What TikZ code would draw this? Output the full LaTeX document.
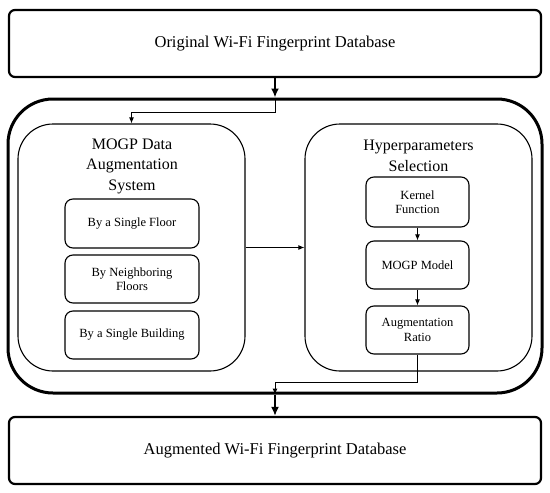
\documentclass[tikz,border=0pt]{standalone}
\usepackage{fontspec}
\setmainfont{Liberation Serif}
\usetikzlibrary{arrows.meta,calc}
\tikzset{
  bigbox/.style={draw, line width=2.2pt, rounded corners=6pt, minimum width=532pt, minimum height=67pt, inner sep=0pt, font=\fontsize{16.5}{20}\selectfont},
  outerbox/.style={draw, line width=3pt, rounded corners=45pt, minimum width=534pt, minimum height=294pt, inner sep=0pt},
  midbox/.style={draw, line width=1.1pt, rounded corners=35pt, minimum width=227pt, minimum height=247pt, inner sep=0pt},
  smallbox/.style={draw, line width=1.1pt, rounded corners=8pt, inner sep=0pt, align=center, font=\fontsize{12.5}{14.5}\selectfont},
  titletext/.style={align=center, inner sep=0pt, font=\fontsize{16}{20.5}\selectfont},
  thinarrow/.style={line width=1pt, -{Latex[length=6pt,width=5pt]}},
  thickarrow/.style={line width=2.4pt, -{Latex[length=9pt,width=8pt]}},
}
\begin{document}
\begin{tikzpicture}[x=1pt,y=-1pt]
\useasboundingbox (0,0) rectangle (550,493);
\node[bigbox] (top) at (275,43.5) {Original Wi-Fi Fingerprint Database};
\node[outerbox] (outer) at (275,246) {};
\node[midbox] (mogp) at (131.5,247.5) {};
\node[midbox] (hyper) at (418.5,247.5) {};
\node[titletext] (mogpt) at (132,166) {MOGP Data\\Augmentation\\System};
\node[titletext] (hypert) at (418.5,156) {Hyperparameters\\Selection};
\node[smallbox, minimum width=134pt, minimum height=49pt] (l1) at (132,223.5) {By a Single Floor};
\node[smallbox, minimum width=134pt, minimum height=48pt] (l2) at (132,279) {By Neighboring\\Floors};
\node[smallbox, minimum width=134pt, minimum height=48pt] (l3) at (132,335) {By a Single Building};
\node[smallbox, minimum width=103pt, minimum height=50pt] (k1) at (417.5,202) {Kernel\\Function};
\node[smallbox, minimum width=103pt, minimum height=48pt] (k2) at (417.5,265) {MOGP Model};
\node[smallbox, minimum width=103pt, minimum height=48pt] (k3) at (417.5,330) {Augmentation\\Ratio};
\node[bigbox] (bottom) at (275,450.5) {Augmented Wi-Fi Fingerprint Database};
\coordinate (j1) at (275,112);
\coordinate (j2) at (417.5,382);
\draw[thickarrow] (top.south) -- (outer.north);
\draw[thinarrow] (outer.north) -- (j1) -| (mogp.north);
\draw[thinarrow] (mogp.east) -- (hyper.west);
\draw[thinarrow] (k1.south) -- (k2.north);
\draw[thinarrow] (k2.south) -- (k3.north);
\draw[thinarrow] (k3.south) -- (j2) -| (outer.south);
\draw[thickarrow] (outer.south) -- (bottom.north);
\end{tikzpicture}
\end{document}
